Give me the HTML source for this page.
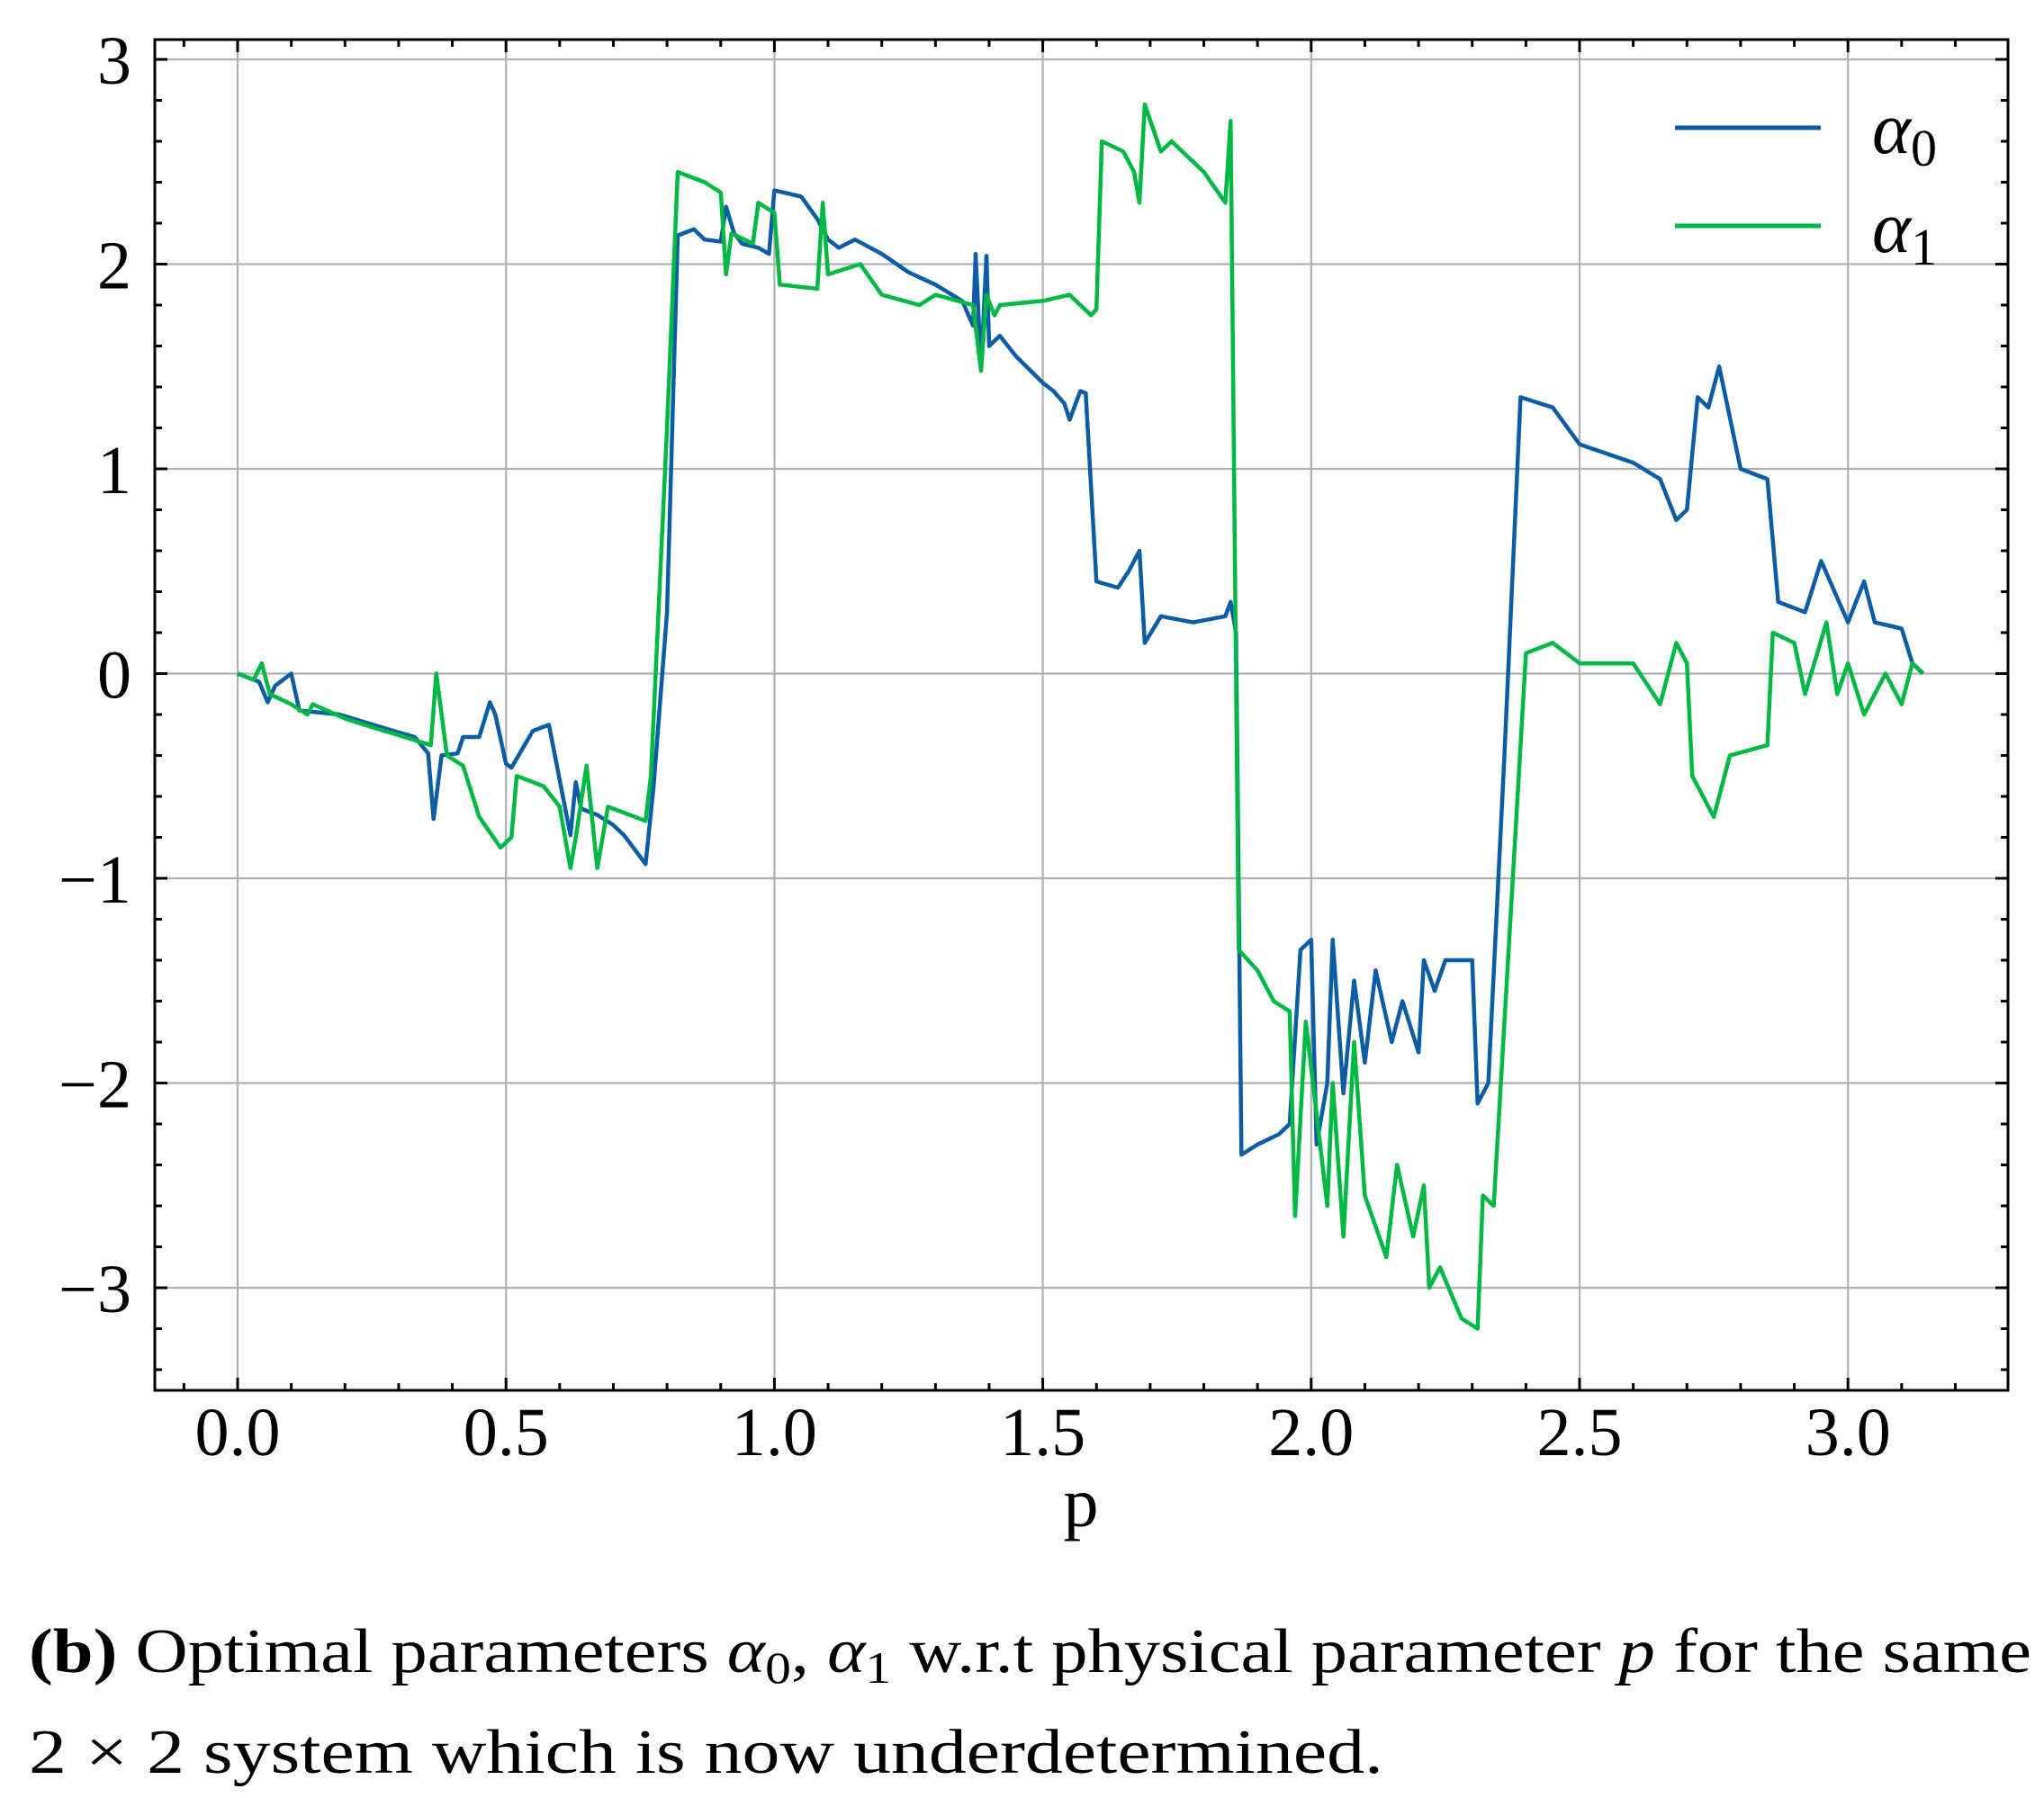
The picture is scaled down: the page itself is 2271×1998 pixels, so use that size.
<!DOCTYPE html>
<html><head><meta charset="utf-8"><style>
html,body{margin:0;padding:0;background:#fff;}
svg{display:block;font-family:"Liberation Serif",serif;}
</style></head><body>
<svg id="chart" width="2271" height="1998" viewBox="0 0 2271 1998" xmlns="http://www.w3.org/2000/svg">
<rect width="2271" height="1998" fill="#fff"/>
<g id="grid"></g>
<g id="series"></g>
<rect x="172" y="44" width="2059" height="1501" fill="none" stroke="#000" stroke-width="3"/>
<g id="ticks"></g>
<g id="labels" font-size="76" fill="#000"></g>
<text x="1201" y="1696" font-size="78" text-anchor="middle">p</text>
<g>
 <line x1="1861" y1="142" x2="2023" y2="142" stroke="#0C5DA5" stroke-width="5"/>
 <text x="2080" y="170" font-size="82"><tspan font-style="italic">α</tspan><tspan font-size="58" dy="14">0</tspan></text>
 <line x1="1861" y1="251" x2="2023" y2="251" stroke="#00B945" stroke-width="5"/>
 <text x="2080" y="280" font-size="82"><tspan font-style="italic">α</tspan><tspan font-size="58" dy="14">1</tspan></text>
</g>
<text x="32" y="1858" font-size="70" textLength="2225" lengthAdjust="spacingAndGlyphs"><tspan font-weight="bold">(b)</tspan> Optimal parameters <tspan font-style="italic">α</tspan><tspan font-size="50" dy="12">0</tspan><tspan dy="-12">, </tspan><tspan font-style="italic">α</tspan><tspan font-size="50" dy="12">1</tspan><tspan dy="-12"> w.r.t physical parameter </tspan><tspan font-style="italic">p</tspan> for the same</text>
<text x="32" y="1970" font-size="70" textLength="1505" lengthAdjust="spacingAndGlyphs">2 × 2 system which is now underdetermined.</text>
</svg>
<script>
const alpha0P=[0,0.04,0.056,0.07,0.1,0.115,0.19,0.24,0.29,0.33,0.355,0.365,0.38,0.41,0.42,0.45,0.47,0.48,0.5,0.51,0.55,0.58,0.62,0.63,0.64,0.67,0.7,0.72,0.76,0.775,0.8,0.82,0.85,0.87,0.9,0.91,0.925,0.94,0.97,0.99,1.0,1.05,1.08,1.1,1.12,1.15,1.2,1.25,1.3,1.35,1.37,1.375,1.385,1.395,1.4,1.42,1.45,1.5,1.52,1.54,1.55,1.57,1.58,1.6,1.64,1.66,1.68,1.69,1.72,1.78,1.84,1.85,1.86,1.87,1.9,1.94,1.96,1.98,2.0,2.01,2.03,2.04,2.06,2.08,2.1,2.12,2.15,2.17,2.2,2.21,2.23,2.25,2.3,2.31,2.33,2.36,2.39,2.45,2.5,2.6,2.65,2.68,2.7,2.72,2.74,2.76,2.78,2.8,2.85,2.87,2.92,2.95,3.0,3.03,3.05,3.1,3.12,3.14];
const alpha0V=[0,-0.04,-0.14,-0.06,0,-0.18,-0.2,-0.24,-0.28,-0.31,-0.39,-0.71,-0.4,-0.39,-0.31,-0.31,-0.14,-0.2,-0.44,-0.46,-0.28,-0.25,-0.79,-0.53,-0.66,-0.69,-0.74,-0.79,-0.93,-0.55,0.3,2.14,2.17,2.12,2.11,2.28,2.15,2.1,2.08,2.05,2.36,2.33,2.22,2.12,2.08,2.12,2.05,1.96,1.9,1.82,1.7,2.05,1.48,2.04,1.6,1.65,1.55,1.42,1.38,1.32,1.24,1.38,1.37,0.45,0.42,0.5,0.6,0.15,0.28,0.25,0.28,0.35,0.2,-2.35,-2.3,-2.25,-2.2,-1.35,-1.3,-2.3,-2.0,-1.3,-2.05,-1.5,-1.9,-1.45,-1.8,-1.6,-1.85,-1.4,-1.55,-1.4,-1.4,-2.1,-2.0,-0.4,1.35,1.3,1.12,1.03,0.95,0.75,0.8,1.35,1.3,1.5,1.25,1.0,0.95,0.35,0.3,0.55,0.25,0.45,0.25,0.22,0.05,0];
const alpha1P=[0,0.03,0.045,0.06,0.1,0.13,0.14,0.2,0.26,0.3,0.36,0.37,0.39,0.42,0.45,0.49,0.51,0.52,0.57,0.6,0.62,0.63,0.65,0.67,0.69,0.76,0.77,0.8,0.82,0.87,0.9,0.91,0.92,0.96,0.97,1.0,1.01,1.08,1.09,1.1,1.16,1.2,1.27,1.3,1.37,1.385,1.395,1.41,1.42,1.5,1.55,1.59,1.6,1.61,1.65,1.67,1.68,1.69,1.72,1.74,1.8,1.84,1.85,1.865,1.9,1.93,1.96,1.97,1.99,2.03,2.04,2.06,2.08,2.1,2.14,2.16,2.19,2.21,2.22,2.24,2.28,2.31,2.32,2.34,2.4,2.45,2.5,2.6,2.65,2.68,2.7,2.71,2.75,2.78,2.85,2.86,2.9,2.92,2.96,2.98,3.0,3.03,3.07,3.1,3.12,3.14];
const alpha1V=[0,-0.03,0.05,-0.1,-0.15,-0.2,-0.15,-0.22,-0.27,-0.3,-0.35,0,-0.4,-0.45,-0.7,-0.85,-0.8,-0.5,-0.55,-0.65,-0.95,-0.8,-0.45,-0.95,-0.65,-0.72,-0.5,1.2,2.45,2.4,2.35,1.95,2.15,2.1,2.3,2.25,1.9,1.88,2.3,1.95,2.0,1.85,1.8,1.85,1.8,1.48,1.85,1.75,1.8,1.82,1.85,1.75,1.78,2.6,2.55,2.45,2.3,2.78,2.55,2.6,2.45,2.3,2.7,-1.35,-1.45,-1.6,-1.65,-2.65,-1.7,-2.6,-2.0,-2.75,-1.8,-2.55,-2.85,-2.4,-2.75,-2.5,-3.0,-2.9,-3.15,-3.2,-2.55,-2.6,0.1,0.15,0.05,0.05,-0.15,0.15,0.05,-0.5,-0.7,-0.4,-0.35,0.2,0.15,-0.1,0.25,-0.1,0.05,-0.2,0,-0.15,0.05,0];
const xTickValues=[0,0.5,1,1.5,2,2.5,3];
const xTickLabels=["0.0","0.5","1.0","1.5","2.0","2.5","3.0"];
const yTickValues=[3,2,1,0,-1,-2,-3];
const yTickLabels=["3","2","1","0","\u22121","\u22122","\u22123"];

const NS="http://www.w3.org/2000/svg";
const L=172,R=2231,T=44,B=1545;
function X(p){return 264+p*596.4;}
function Y(v){return 748.5-v*227.5;}
function mk(tag,attrs,parent){const e=document.createElementNS(NS,tag);for(const k in attrs)e.setAttribute(k,attrs[k]);parent.appendChild(e);return e;}
const grid=document.getElementById('grid'),ticks=document.getElementById('ticks'),labels=document.getElementById('labels'),series=document.getElementById('series');
xTickValues.forEach((v,i)=>{
  const g=mk('line',{x1:X(v),x2:X(v),y1:T,y2:B,stroke:'#b0b0b0','stroke-width':2.2},grid);
  
  
  const t=mk('text',{x:X(v),y:1617,'text-anchor':'middle'},labels);
  
  
  t.textContent=xTickLabels[i];
});
yTickValues.forEach((v,i)=>{
  const g=mk('line',{x1:L,x2:R,y1:Y(v),y2:Y(v),stroke:'#b0b0b0','stroke-width':2.2},grid);
  
  
  const t=mk('text',{x:146,y:Y(v)+27,'text-anchor':'end'},labels);
  
  
  t.textContent=yTickLabels[i];
});
let d='';
for(let k=-1;k<=33;k++){const p=k/10,x=X(p);if(x<L+1||x>R-1)continue;const len=(k%5===0)?14:8;d+=`M${x},${B}v${-len}M${x},${T}v${len}`;}
for(let k=-17;k<=15;k++){const v=k/5,y=Y(v);if(y<T+1||y>B-1)continue;const len=(k%5===0)?14:8;d+=`M${L},${y}h${len}M${R},${y}h${-len}`;}
const tk=mk('path',{d:d,stroke:'#000','stroke-width':3,fill:'none'},ticks);


function line(P,V,color,name){
  const pd=P.map((p,i)=>(i?'L':'M')+X(p).toFixed(1)+','+Y(V[i]).toFixed(1)).join('');
  const e=mk('path',{d:pd,stroke:color,'stroke-width':4.5,fill:'none','stroke-linejoin':'round'},series);
  
  
}
line(alpha0P,alpha0V,'#0C5DA5','alpha0-line');
line(alpha1P,alpha1V,'#00B945','alpha1-line');
</script>
</body></html>
